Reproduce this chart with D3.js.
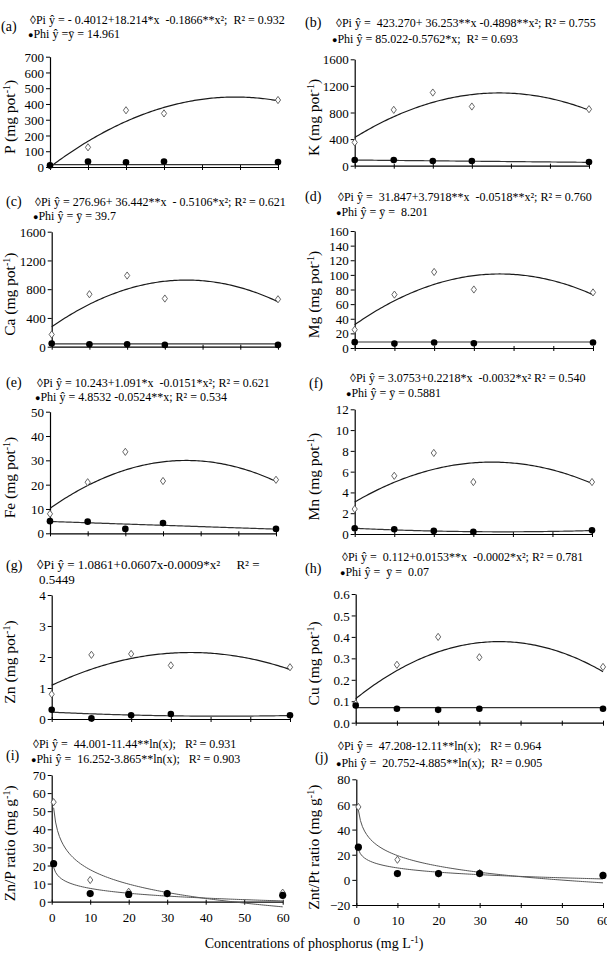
<!DOCTYPE html>
<html>
<head>
<meta charset="utf-8">
<script src="https://cdn.jsdelivr.net/npm/d3@7"></script>
<style>
  body { margin: 0; background: #fff; }
  text { font-family: "Liberation Serif", "Times New Roman", serif; fill: #000; }
</style>
</head>
<body>
<script>
// doses of P in solution (mg L-1); the ratio panels put the control at 0.5 for ln(x)
const doses = [0, 10, 20, 30, 60];
const ratioDoses = [0.5, 10, 20, 30, 60];
const xTicks = [0, 10, 20, 30, 40, 50, 60];

const P_pi = [10, 125, 360, 340, 425];
const P_phi = [10, 35, 30, 35, 32];
const K_pi = [350, 840, 1100, 890, 850];
const K_phi = [85, 85, 70, 70, 55];
const Ca_pi = [170, 730, 990, 670, 660];
const Ca_phi = [45, 35, 35, 25, 25];
const Mg_pi = [25, 73, 104, 80, 76];
const Mg_phi = [8, 6, 7.5, 6.5, 7.5];
const Fe_pi = [8, 21, 33.5, 21.5, 22];
const Fe_phi = [5, 4.8, 1.8, 4.2, 1.8];
const Mn_pi = [2.4, 5.6, 7.8, 5.0, 5.0];
const Mn_phi = [0.55, 0.45, 0.3, 0.2, 0.35];
const Zn_pi = [0.8, 2.07, 2.1, 1.73, 1.67];
const Zn_phi = [0.3, 0.02, 0.12, 0.16, 0.12];
const Cu_pi = [0.09, 0.27, 0.40, 0.305, 0.26];
const Cu_phi = [0.08, 0.065, 0.06, 0.065, 0.065];
const ZnP_pi = [55, 12, 5.5, 4.5, 5];
const ZnP_phi = [21, 4.5, 4, 4.5, 3.5];
const ZntPt_pi = [58, 16, 5, 5.5, 3.5];
const ZntPt_phi = [26, 5, 5, 5, 3.5];

// fitted equations: quadratic [b0, b1, b2] or log [a, b] (y = a + b ln x)
const P_piFit = [-0.4012, 18.214, -0.1866];
const P_phiFit = [14.961, 0, 0];
const K_piFit = [423.270, 36.253, -0.4898];
const K_phiFit = [85.022, -0.5762, 0];
const Ca_piFit = [276.96, 36.442, -0.5106];
const Ca_phiFit = [39.7, 0, 0];
const Mg_piFit = [31.847, 3.7918, -0.0518];
const Mg_phiFit = [8.201, 0, 0];
const Fe_piFit = [10.243, 1.091, -0.0151];
const Fe_phiFit = [4.8532, -0.0524, 0];
const Mn_piFit = [3.0753, 0.2218, -0.0032];
const Mn_phiFit = [0.55, -0.018, 0.00024];
const Zn_piFit = [1.0861, 0.0607, -0.00087];
const Zn_phiFit = [0.22, -0.006, 0.00007];
const Cu_piFit = [0.112, 0.0153, -0.00022];
const Cu_phiFit = [0.07, 0, 0];
const ZnP_piFit = [44.001, -11.44];
const ZnP_phiFit = [16.252, -3.865];
const ZntPt_piFit = [47.208, -12.11];
const ZntPt_phiFit = [20.752, -4.885];

const panels = [
  {id: "(a)", yName: "P (mg pot", sup: "-1", left: 50, right: 278, top: 56.7, bottom: 167,
   domain: [0, 700], step: 100, pi: P_pi, phi: P_phi, piFit: P_piFit, phiFit: P_phiFit,
   lab: [1, 31], eq: [[30, 24, "◊Pi ŷ = - 0.4012+18.214*x  -0.1866**x²;  R² = 0.932"], [28, 38, "●Phi ŷ =ȳ = 14.961"]]},
  {id: "(b)", yName: "K (mg pot", sup: "-1", left: 354.7, right: 589, top: 59.3, bottom: 165.7,
   domain: [0, 1600], step: 400, pi: K_pi, phi: K_phi, piFit: K_piFit, phiFit: K_phiFit,
   lab: [305, 27], eq: [[336, 27, "◊Pi ŷ =  423.270+ 36.253**x -0.4898**x²; R² = 0.755"], [332, 43, "●Phi ŷ = 85.022-0.5762*x;  R² = 0.693"]]},
  {id: "(c)", yName: "Ca (mg pot", sup: "-1", left: 51.7, right: 278, top: 231.7, bottom: 346.7,
   domain: [0, 1600], step: 400, pi: Ca_pi, phi: Ca_phi, piFit: Ca_piFit, phiFit: Ca_phiFit,
   lab: [6, 206], eq: [[35, 206, "◊Pi ŷ = 276.96+ 36.442**x  - 0.5106*x²; R² = 0.621"], [33, 220, "●Phi ŷ = ȳ = 39.7"]]},
  {id: "(d)", yName: "Mg (mg pot", sup: "-1", left: 354.7, right: 593, top: 231, bottom: 348,
   domain: [0, 160], step: 20, pi: Mg_pi, phi: Mg_phi, piFit: Mg_piFit, phiFit: Mg_phiFit,
   lab: [305, 201], eq: [[338, 201, "◊Pi ŷ =  31.847+3.7918**x  -0.0518**x²; R² = 0.760"], [336, 216, "●Phi ŷ = ȳ =  8.201"]]},
  {id: "(e)", yName: "Fe (mg pot", sup: "-1", left: 50, right: 276, top: 411.7, bottom: 533.3,
   domain: [0, 50], step: 10, pi: Fe_pi, phi: Fe_phi, piFit: Fe_piFit, phiFit: Fe_phiFit,
   lab: [6, 387], eq: [[37, 387, "◊Pi ŷ = 10.243+1.091*x  -0.0151*x²; R² = 0.621"], [35, 401, "●Phi ŷ = 4.8532 -0.0524**x; R² = 0.534"]]},
  {id: "(f)", yName: "Mn (mg pot", sup: "-1", left: 354.7, right: 592, top: 409.3, bottom: 534,
   domain: [0, 12], step: 2, pi: Mn_pi, phi: Mn_phi, piFit: Mn_piFit, phiFit: Mn_phiFit,
   lab: [309, 388], eq: [[350, 382, "◊Pi ŷ = 3.0753+0.2218*x  -0.0032*x² R² = 0.540"], [346, 397, "●Phi ŷ = ȳ = 0.5881"]]},
  {id: "(g)", yName: "Zn (mg pot", sup: "-1", left: 51.7, right: 290, top: 595, bottom: 719,
   domain: [0, 4], step: 1, pi: Zn_pi, phi: Zn_phi, piFit: Zn_piFit, phiFit: Zn_phiFit,
   lab: [6, 570], eqSize: 13, eq: [[37, 569, "◊Pi ŷ = 1.0861+0.0607x-0.0009*x²     R² ="], [39, 584, "0.5449"]]},
  {id: "(h)", yName: "Cu (mg pot", sup: "-1", left: 355.7, right: 603, top: 594, bottom: 722.7,
   domain: [0, 0.6], step: 0.1, fmt: ".1f", pi: Cu_pi, phi: Cu_phi, piFit: Cu_piFit, phiFit: Cu_phiFit,
   lab: [305, 573], eq: [[342, 561, "◊Pi ŷ =  0.112+0.0153**x  -0.0002*x²; R² = 0.781"], [340, 576, "●Phi ŷ =  ȳ =  0.07"]]},
  {id: "(i)", yName: "Zn/P ratio (mg g", sup: "-1", left: 51.7, right: 282.7, top: 775, bottom: 901.7,
   domain: [0, 70], step: 10, log: true, xLabels: true, pi: ZnP_pi, phi: ZnP_phi, piFit: ZnP_piFit, phiFit: ZnP_phiFit,
   lab: [6, 760], eq: [[33, 748, "◊Pi ŷ =  44.001-11.44**ln(x);   R² = 0.931"], [31, 763, "●Phi ŷ =  16.252-3.865**ln(x);   R² = 0.903"]]},
  {id: "(j)", yName: "Znt/Pt ratio (mg g", sup: "-1", left: 356.3, right: 603, top: 779.3, bottom: 905,
   domain: [-20, 80], step: 20, log: true, xLabels: true, pi: ZntPt_pi, phi: ZntPt_phi, piFit: ZntPt_piFit, phiFit: ZntPt_phiFit,
   lab: [315, 762], eq: [[338, 750, "◊Pi ŷ =  47.208-12.11**ln(x);   R² = 0.964"], [336, 767, "●Phi ŷ =  20.752-4.885**ln(x);  R² = 0.905"]]}
];

const svg = d3.select("body").append("svg")
  .attr("width", 607)
  .attr("height", 967);

const diamond = "M0,-3.6L2.6,0L0,3.6L-2.6,0Z";

function fitValue(c, x, isLog) {
  if (isLog) return c[0] + c[1] * Math.log(x);
  return c[0] + c[1] * x + c[2] * x * x;
}

panels.forEach(p => {
  const g = svg.append("g");
  const x = d3.scaleLinear().domain([0, 60]).range([p.left, p.right]);
  const y = d3.scaleLinear().domain(p.domain).range([p.bottom, p.top]);
  const xs = p.log ? ratioDoses : doses;

  // y axis
  const yTicks = d3.range(p.domain[0], p.domain[1] + p.step / 2, p.step);
  const yAxis = g.append("g")
    .attr("transform", `translate(${p.left},0)`)
    .call(d3.axisLeft(y).tickValues(yTicks).tickSize(4).tickSizeOuter(0)
      .tickFormat(d3.format(p.fmt || "d")));
  yAxis.select(".domain").attr("stroke", "#000").attr("stroke-width", 1.2);
  yAxis.selectAll("text")
    .attr("font-family", null)
    .style("font-size", "13px")
    .attr("x", -6)
    .attr("dy", "0.35em");

  // x axis
  const xAxis = g.append("g")
    .attr("transform", `translate(0,${p.bottom})`)
    .call(d3.axisBottom(x).tickValues(xTicks).tickSize(3).tickSizeOuter(0)
      .tickFormat(p.xLabels ? d3.format("d") : ""));
  xAxis.select(".domain").attr("stroke", "#000").attr("stroke-width", 1.2);
  xAxis.selectAll(".tick line").attr("y1", -2);
  xAxis.selectAll("text")
    .attr("font-family", null)
    .style("font-size", "13px")
    .attr("y", 11);

  // fitted curves
  const x0 = p.log ? 0.5 : 0;
  const grid = d3.range(x0, 60.01, 0.5);
  const line = d3.line().x(d => x(d[0])).y(d => y(d[1]));
  g.append("path")
    .attr("d", line(grid.map(v => [v, fitValue(p.piFit, v, p.log)])))
    .attr("fill", "none")
    .attr("stroke", p.log ? "#555" : "#1a1a1a")
    .attr("stroke-width", p.log ? 1 : 1.2);
  g.append("path")
    .attr("d", line(grid.map(v => [v, fitValue(p.phiFit, v, p.log)])))
    .attr("fill", "none")
    .attr("stroke", p.log ? "#555" : "#333")
    .attr("stroke-width", p.log ? 1 : 1.2);

  // observed points: open diamonds (Pi) under filled circles (Phi)
  g.selectAll(".pi").data(p.pi).enter().append("path")
    .attr("d", diamond)
    .attr("transform", (d, i) => `translate(${x(xs[i])},${y(d)})`)
    .attr("fill", "#fff").attr("stroke", "#555").attr("stroke-width", 0.9);
  g.selectAll(".phi").data(p.phi).enter().append("circle")
    .attr("cx", (d, i) => x(xs[i]))
    .attr("cy", d => y(d))
    .attr("r", p.log ? 3.6 : 3.3)
    .attr("fill", "#000");

  // y axis title
  const t = g.append("text")
    .attr("transform", `translate(${p.left < 200 ? 15 : 319},${(p.top + p.bottom) / 2 + 5}) rotate(-90)`)
    .attr("text-anchor", "middle")
    .style("font-size", "15.5px");
  t.append("tspan").text(p.yName);
  t.append("tspan").attr("baseline-shift", "super").style("font-size", "10px").text(p.sup);
  t.append("tspan").text(")");

  // panel letter
  g.append("text").attr("x", p.lab[0]).attr("y", p.lab[1])
    .style("font-size", "14px").text(p.id);

  // equations
  p.eq.forEach(e => {
    const tx = g.append("text").attr("x", e[0]).attr("y", e[1])
      .style("font-size", (p.eqSize || 12) + "px")
      .style("white-space", "pre");
    if (e[2].startsWith("●")) {
      tx.append("tspan").style("font-size", "9px").text("●");
      tx.append("tspan").text(e[2].slice(1));
    } else {
      tx.text(e[2]);
    }
  });
});

// shared x axis title
const xt = svg.append("text")
  .attr("x", 314).attr("y", 948)
  .attr("text-anchor", "middle")
  .style("font-size", "14px");
xt.append("tspan").text("Concentrations of phosphorus (mg L");
xt.append("tspan").attr("baseline-shift", "super").style("font-size", "9.5px").text("-1");
xt.append("tspan").text(")");
</script>
</body>
</html>
